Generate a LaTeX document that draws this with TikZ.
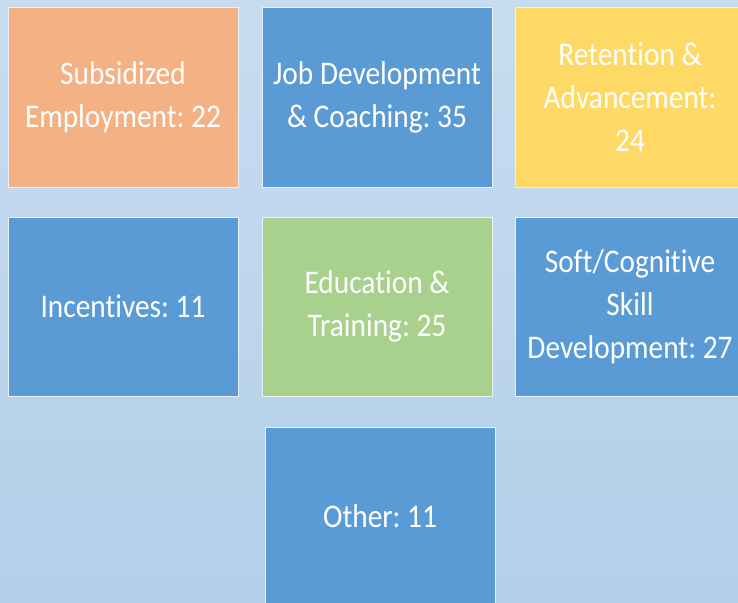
\documentclass[tikz,border=0pt]{standalone}
\usepackage{fontspec}
\setmainfont[Ligatures=NoCommon,FakeStretch=0.89]{Carlito}
\usepackage{tikz}
\usetikzlibrary{positioning}
\definecolor{BgTop}{HTML}{C8DCF0}
\definecolor{BgBottom}{HTML}{B3CFEA}
\definecolor{BoxOrange}{HTML}{F4B183}
\definecolor{BoxBlue}{HTML}{5B9BD5}
\definecolor{BoxYellow}{HTML}{FFD966}
\definecolor{BoxGreen}{HTML}{A9D18E}
\definecolor{BoxEdge}{HTML}{E8F0F8}
\frenchspacing

\begin{document}
\begin{tikzpicture}[
x=1pt,y=-1pt,
TopicBox/.style={draw=BoxEdge,line width=1pt,minimum width=230pt,minimum height=179pt,
  inner sep=0pt,text=white,align=center,font=\fontsize{33}{43}\selectfont},
OrangeBox/.style={TopicBox,fill=BoxOrange},
BlueBox/.style={TopicBox,fill=BoxBlue},
YellowBox/.style={TopicBox,fill=BoxYellow},
GreenBox/.style={TopicBox,fill=BoxGreen}
]
\useasboundingbox (0,0) rectangle (738,602);
\clip (0,0) rectangle (738,602);
\shade[top color=BgTop,bottom color=BgBottom] (0,0) rectangle (738,602);

% first row
\node[OrangeBox] (subsidized) at (123,97.5) {Subsidized\\Employment: 22};
\node[BlueBox]   (jobdev)     at (377,97.5) {Job Development\\\& Coaching: 35};
\node[YellowBox] (retention)  at (630,97.5) {Retention \&\\Advancement:\\24};

% second row
\node[BlueBox]   (incentives) at (123,306.5) {Incentives: 11};
\node[GreenBox]  (education)  at (377,306.5) {Education \&\\Training: 25};
\node[BlueBox]   (softskill)  at (630,306.5) {Soft/Cognitive\\Skill\\Development: 27};

% third row
\node[BlueBox]   (other)      at (380,516.5) {Other: 11};

\end{tikzpicture}
\end{document}
